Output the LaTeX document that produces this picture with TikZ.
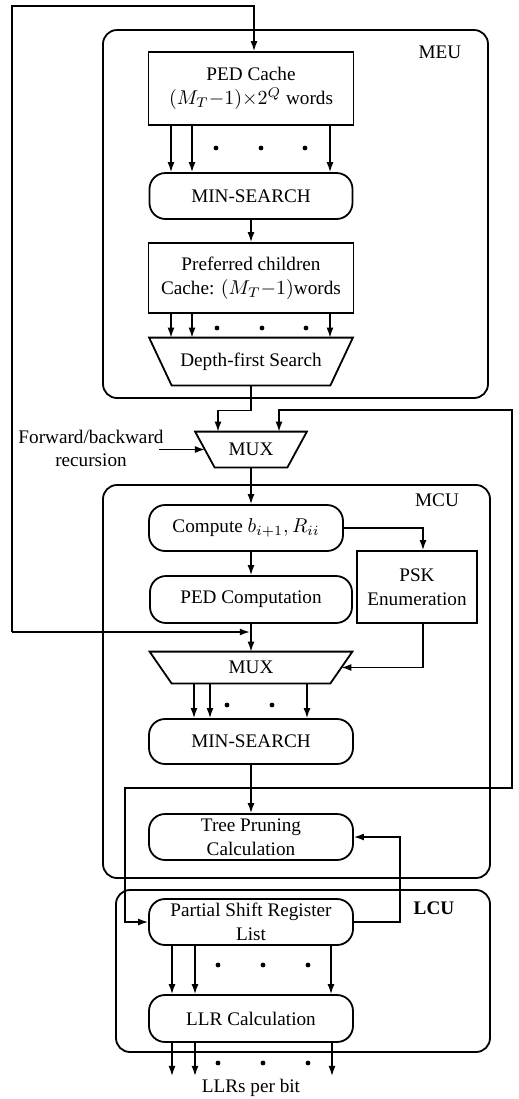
\documentclass[tikz,border=0pt]{standalone}
\usepackage{fontspec}
\setmainfont{Liberation Serif}
\usetikzlibrary{positioning,arrows.meta}

% outline of a mux: node name, inset of the lower corners
\newcommand\muxoutline[2]{%
  \draw[line width=0.9pt] (#1.north west) -- (#1.north east)
    -- ([xshift=-#2]#1.south east) -- ([xshift=#2]#1.south west) -- cycle;}

\begin{document}
\begin{tikzpicture}[x=0.5pt, y=-0.5pt,
    font=\fontsize{9.6}{12}\selectfont,
    unit/.style={draw, rectangle, rounded corners=7pt, line width=0.9pt},
    block/.style={draw, rectangle, line width=0.9pt, align=center, inner sep=1pt},
    pill/.style={draw, rectangle, rounded corners=8pt, line width=0.9pt, align=center, inner sep=1pt},
    mux/.style={rectangle, inner sep=0pt},
    arr/.style={-{Latex[length=5pt,width=3.5pt]}, line width=0.7pt},
    wire/.style={line width=0.7pt}
]
\useasboundingbox (0,0) rectangle (519,1099);

% Units
\node[unit, minimum width=192.5pt, minimum height=184pt] (meu) at (295.5,214) {};
\node[unit, minimum width=193.5pt, minimum height=196.5pt] (mcu) at (296.5,681.5) {};
\node[unit, minimum width=187pt, minimum height=81pt] (lcu) at (303,971) {};
\node (meulabel) at (440,52) {MEU};
\node (mculabel) at (437,500) {MCU};
\node (lculabel) at (434,908) {\textbf{LCU}};

% MEU
\node[block, minimum width=102.5pt, minimum height=36.5pt] (pedcache) at (251,88.5)
    {PED Cache\\$(M_T{-}1){\times}2^Q$ words};
\node[pill, minimum width=101.5pt, minimum height=23pt] (msearch1) at (251,196) {MIN-SEARCH};
\node[block, minimum width=102.5pt, minimum height=35pt] (prefcache) at (251,278)
    {Preferred children\\Cache: $(M_T{-}1)$words};
\node[mux, minimum width=101.5pt, minimum height=23.5pt] (dfs) at (251,361.5) {Depth-first Search};
\muxoutline{dfs}{11.25pt}

% MUX between units
\node[mux, minimum width=55.5pt, minimum height=17.5pt] (mux1) at (251,449.5) {MUX};
\muxoutline{mux1}{9.75pt}
\node[align=center, inner sep=0pt, font=\fontsize{9.6}{11.5}\selectfont] (fwd) at (91,448)
    {Forward/backward\\recursion};

% MCU
\node[pill, minimum width=97pt, minimum height=23pt] (compute) at (246,528) {Compute $b_{i+1}, R_{ii}$};
\node[block, minimum width=60pt, minimum height=36pt] (psk) at (417,587) {PSK\\Enumeration};
\node[pill, minimum width=101pt, minimum height=23.5pt] (pedcomp) at (251,599.5) {PED Computation};
\node[mux, minimum width=101pt, minimum height=15.5pt] (mux2) at (251,667.5) {MUX};
\muxoutline{mux2}{11pt}
\node[pill, minimum width=102pt, minimum height=22.5pt] (msearch2) at (251,741.5) {MIN-SEARCH};
\node[pill, minimum width=102pt, minimum height=23pt] (treeprune) at (251,837) {Tree Pruning\\Calculation};

% LCU
\node[pill, minimum width=102pt, minimum height=23pt] (psr) at (251,922) {Partial Shift Register\\List};
\node[pill, minimum width=102pt, minimum height=23.5pt] (llr) at (251,1018.5) {LLR Calculation};
\node[below=17pt of llr.south, inner sep=1pt] (llrout) {LLRs per bit};

% Buses
\foreach \dx in {-80,-59,79}
    \draw[arr] ([xshift=\dx*0.5pt]pedcache.south) -- ([xshift=\dx*0.5pt]msearch1.north);
\foreach \dx in {-80,-59,79}
    \draw[arr] ([xshift=\dx*0.5pt]prefcache.south) -- ([xshift=\dx*0.5pt]dfs.north);
\foreach \dx in {-57,-41,56}
    \draw[arr] ([xshift=\dx*0.5pt]mux2.south) -- ([xshift=\dx*0.5pt]msearch2.north);
\foreach \dx in {-79,-56,80}
    \draw[arr] ([xshift=\dx*0.5pt]psr.south) -- ([xshift=\dx*0.5pt]llr.north);
\foreach \dx in {-79,-56,81}
    \draw[arr] ([xshift=\dx*0.5pt]llr.south) -- ++(0,33);
\foreach \x/\y in {216/148,261/148,305/148, 217/328,262/328,306/328, 227/705,272/705,
                   218/965,263/965,308/965, 218/1063,263/1063,308/1063}
    \fill (\x,\y) circle (1.2pt);

% Data path
\draw[arr] (msearch1.south) -- (msearch1.south |- prefcache.north);
\draw[arr] (dfs.south) -- ++(0,25) -| ([xshift=-16.5pt]mux1.north);
\draw[arr] ([xshift=-18pt]mux1.west) -- ([xshift=4.9pt]mux1.west);
\draw[arr] (mux1.south) -- (mux1.south |- compute.north);
\draw[arr] (compute.east) -| ([xshift=3pt]psk.north);
\draw[arr] (compute.south -| pedcomp.north) -- (pedcomp.north);
\draw[arr] (pedcomp.south) -- (mux2.north);
\draw[arr] ([xshift=3pt]psk.south) |- ([xshift=-5.5pt]mux2.east);
\draw[arr] (msearch2.south) -- (treeprune.north);
\draw[arr] (psr.east) -- ++(46,0) |- (treeprune.east);

% Feedback loops
\coordinate (fbL) at (12,632);
\coordinate (fbT) at (12,6);
\coordinate (tap) at (251,788);
\coordinate (fbR) at (512,410);
\coordinate (fbD) at (125,788);
\draw[arr] (fbL) -- ([xshift=-0.6pt]fbL -| pedcomp.south);
\draw[arr] (fbL) -- (fbT) -| ([xshift=1.5pt]pedcache.north);
\draw[arr] (tap) -| (fbR) -| ([xshift=14pt]mux1.north);
\draw[arr] (tap) -- (fbD) |- (psr.west);

\end{tikzpicture}
\end{document}
